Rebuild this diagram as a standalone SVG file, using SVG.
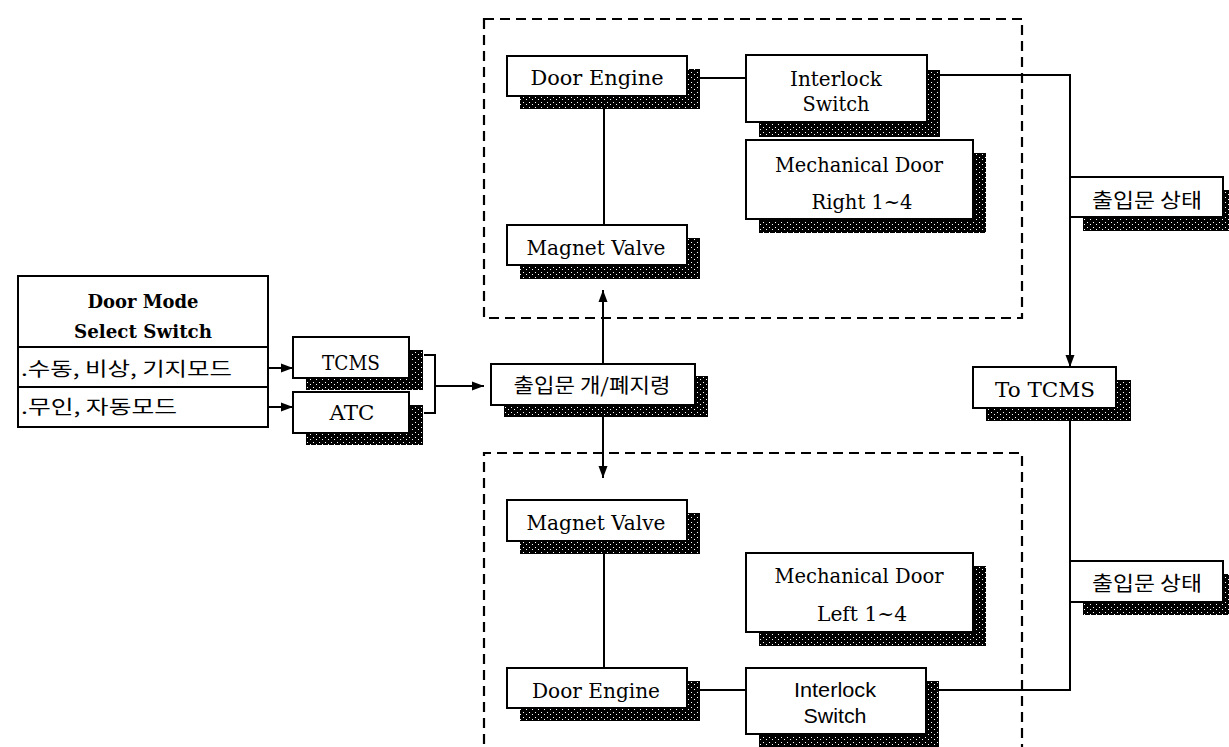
<svg xmlns="http://www.w3.org/2000/svg" width="1229" height="747" viewBox="0 0 1229 747">
<defs>
<pattern id="st" width="6" height="5" patternUnits="userSpaceOnUse">
<rect width="6" height="5" fill="#000"/>
<rect x="1" y="2" width="1" height="1" fill="#fff"/>
<rect x="4" y="4" width="1" height="1" fill="#fff"/>
</pattern>
<marker id="ah" viewBox="0 0 12 10" refX="12" refY="5" markerWidth="12" markerHeight="10" markerUnits="userSpaceOnUse" orient="auto">
<path d="M0,0.5 L12,5 L0,9.5 z" fill="#000"/>
</marker>
</defs>
<style>
.box{fill:#fff;stroke:#000;stroke-width:2}
.sh{fill:url(#st)}
.t{font-family:"DejaVu Serif","Liberation Serif",serif;font-size:21px;fill:#000;text-anchor:middle}
.b{font-family:"DejaVu Serif","Liberation Serif",serif;font-size:18px;font-weight:bold;fill:#000;text-anchor:middle}
.s{font-family:"Liberation Sans",Arial,sans-serif;font-size:21px;fill:#000;text-anchor:middle}
.k{font-family:"Noto Sans CJK KR",sans-serif;font-size:19px;fill:#000}
.kc{font-family:"Noto Sans CJK KR",sans-serif;font-size:20px;fill:#000;text-anchor:middle}
.ln{stroke:#000;stroke-width:2;fill:none}
.ar{stroke:#000;stroke-width:2;fill:none;marker-end:url(#ah)}
.dash{stroke:#000;stroke-width:2.2;fill:none;stroke-dasharray:10 6}
</style>
<rect width="1229" height="747" fill="#fff"/>

<g id="groups">
<rect class="dash" x="484" y="19" width="538" height="299"/>
<path class="dash" d="M484,760 V453 H1022 V760"/>
</g>

<g id="connectors">
<line class="ar" x1="268" y1="368" x2="293" y2="368"/>
<line class="ar" x1="268" y1="407" x2="293" y2="407"/>
<path class="ln" d="M424,355 H435 V413 H424"/>
<line class="ar" x1="435" y1="386" x2="484" y2="386"/>
<line class="ar" x1="603" y1="364" x2="603" y2="290"/>
<line class="ar" x1="603" y1="417" x2="603" y2="478"/>
<line class="ln" x1="604" y1="100" x2="604" y2="226"/>
<line class="ln" x1="698" y1="78" x2="746" y2="78"/>
<path class="ar" d="M938,75 H1070 V367"/>
<path class="ln" d="M1070,420 V690 H936"/>
<line class="ln" x1="604" y1="552" x2="604" y2="668"/>
<line class="ln" x1="698" y1="690" x2="746" y2="690"/>
</g>

<g id="mode-switch">
<rect class="box" x="18" y="276" width="250" height="151"/>
<line class="ln" x1="18" y1="347" x2="268" y2="347"/>
<line class="ln" x1="18" y1="387" x2="268" y2="387"/>
<text class="b" x="143" y="308" textLength="111" lengthAdjust="spacingAndGlyphs">Door Mode</text>
<text class="b" x="143" y="338" textLength="138" lengthAdjust="spacingAndGlyphs">Select Switch</text>
<text class="k" x="21" y="376" textLength="211" lengthAdjust="spacingAndGlyphs">.수동, 비상, 기지모드</text>
<text class="k" x="21" y="414" textLength="156" lengthAdjust="spacingAndGlyphs">.무인, 자동모드</text>
</g>

<g id="tcms">
<rect class="sh" x="306" y="350" width="117" height="40"/>
<rect class="box" x="293" y="337" width="116" height="41"/>
<text class="t" x="351" y="370" textLength="58" lengthAdjust="spacingAndGlyphs">TCMS</text>
</g>
<g id="atc">
<rect class="sh" x="306" y="405" width="117" height="40"/>
<rect class="box" x="293" y="392" width="116" height="41"/>
<text class="t" x="352" y="420" textLength="45" lengthAdjust="spacingAndGlyphs">ATC</text>
</g>

<g id="door-command">
<rect class="sh" x="504" y="376" width="204" height="41"/>
<rect class="box" x="491" y="364" width="204" height="41"/>
<text class="kc" x="592" y="393" textLength="157" lengthAdjust="spacingAndGlyphs">출입문 개/폐지령</text>
</g>

<g id="r-door-engine">
<rect class="sh" x="520" y="69" width="180" height="40"/>
<rect class="box" x="507" y="56" width="180" height="40"/>
<text class="t" x="597" y="85" textLength="133" lengthAdjust="spacingAndGlyphs">Door Engine</text>
</g>
<g id="r-interlock">
<rect class="sh" x="759" y="70" width="181" height="67"/>
<rect class="box" x="746" y="55" width="181" height="67"/>
<text class="t" x="836" y="86" textLength="92" lengthAdjust="spacingAndGlyphs">Interlock</text>
<text class="t" x="836" y="111" textLength="67" lengthAdjust="spacingAndGlyphs">Switch</text>
</g>
<g id="r-mech-door">
<rect class="sh" x="759" y="153" width="227" height="80"/>
<rect class="box" x="746" y="140" width="227" height="79"/>
<text class="t" x="859" y="172" textLength="168" lengthAdjust="spacingAndGlyphs">Mechanical Door</text>
<text class="t" x="862" y="209" textLength="101" lengthAdjust="spacingAndGlyphs">Right 1~4</text>
</g>
<g id="r-magnet-valve">
<rect class="sh" x="520" y="238" width="180" height="41"/>
<rect class="box" x="507" y="225" width="180" height="40"/>
<text class="t" x="596" y="255" textLength="139" lengthAdjust="spacingAndGlyphs">Magnet Valve</text>
</g>

<g id="status-upper">
<rect class="sh" x="1083" y="190" width="153" height="41"/>
<rect class="box" x="1070" y="177" width="153" height="40"/>
<text class="kc" x="1147" y="208" textLength="110" lengthAdjust="spacingAndGlyphs">출입문 상태</text>
</g>
<g id="to-tcms">
<rect class="sh" x="986" y="380" width="145" height="41"/>
<rect class="box" x="973" y="367" width="143" height="41"/>
<text class="t" x="1045" y="397" textLength="100" lengthAdjust="spacingAndGlyphs">To TCMS</text>
</g>
<g id="status-lower">
<rect class="sh" x="1083" y="574" width="153" height="41"/>
<rect class="box" x="1070" y="561" width="153" height="41"/>
<text class="kc" x="1147" y="591" textLength="110" lengthAdjust="spacingAndGlyphs">출입문 상태</text>
</g>

<g id="l-magnet-valve">
<rect class="sh" x="520" y="513" width="180" height="41"/>
<rect class="box" x="507" y="500" width="180" height="41"/>
<text class="t" x="596" y="530" textLength="139" lengthAdjust="spacingAndGlyphs">Magnet Valve</text>
</g>
<g id="l-mech-door">
<rect class="sh" x="759" y="566" width="227" height="80"/>
<rect class="box" x="746" y="553" width="227" height="79"/>
<text class="t" x="859" y="583" textLength="169" lengthAdjust="spacingAndGlyphs">Mechanical Door</text>
<text class="t" x="862" y="621" textLength="90" lengthAdjust="spacingAndGlyphs">Left 1~4</text>
</g>
<g id="l-door-engine">
<rect class="sh" x="520" y="681" width="180" height="40"/>
<rect class="box" x="507" y="668" width="180" height="40"/>
<text class="t" x="596" y="698" textLength="128" lengthAdjust="spacingAndGlyphs">Door Engine</text>
</g>
<g id="l-interlock">
<rect class="sh" x="759" y="681" width="180" height="67"/>
<rect class="box" x="746" y="668" width="180" height="66"/>
<text class="s" x="835" y="697" textLength="82" lengthAdjust="spacingAndGlyphs">Interlock</text>
<text class="s" x="835" y="723" textLength="63" lengthAdjust="spacingAndGlyphs">Switch</text>
</g>
</svg>
